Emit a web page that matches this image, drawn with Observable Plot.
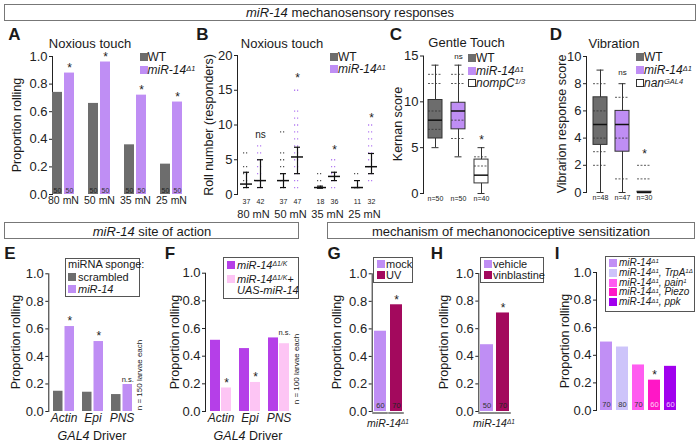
<!DOCTYPE html>
<html><head><meta charset="utf-8">
<script src="https://cdn.jsdelivr.net/npm/d3@7"></script>
<script src="https://cdn.jsdelivr.net/npm/@observablehq/plot@0.6"></script>
<style>
html,body{margin:0;padding:0;background:#fff;}
#fig{position:relative;width:700px;height:444px;overflow:hidden;font-family:"Liberation Sans",Arial,Helvetica,sans-serif;color:#1a1a1a;background:#fff;}
#fig > svg{position:absolute;left:0;top:0;}
.lb{position:absolute;white-space:nowrap;line-height:1;}
.hdr{position:absolute;box-sizing:border-box;border:1.5px solid #777;background:#fff;}
.sq{position:absolute;width:8px;height:8px;box-sizing:border-box;}
.lgbox{position:absolute;box-sizing:border-box;border:1px solid #555;}
sup{font-size:0.62em;position:relative;top:-0.4em;vertical-align:baseline;line-height:0;}
</style></head><body><div id="fig"></div>
<script>
// ---------------- data ----------------
const doses = ["80 mN", "50 mN", "35 mN", "25 mN"];
// A: noxious touch, proportion rolling
const touchWT = [0.74, 0.66, 0.36, 0.22];
const touchMiR = [0.88, 0.96, 0.72, 0.67];
const touchN = [50, 50, 50, 50];
// B: roll number (responders)
const rollDotsWT = [[1,2,3,4,6],[1,2,3,4,5,6,9],[1,2,3],[1,3]];
const rollDotsMiR = [[1,2,3,4,5,6,7],[1,2,3,4,5,6,7,8,9,10,11,12,15],[1,2,3,4,5],[2,3,4,5,6,7,8,9,10]];
const rollMidWT = [1.5, 2, 1, 1];
const rollLoWT = [1, 1, 0.9, 1];
const rollHiWT = [3.2, 3, 1.2, 2];
const rollMidMiR = [2, 5.4, 2.6, 4];
const rollLoMiR = [1, 3, 2, 3];
const rollHiMiR = [5, 6.8, 3.2, 5.9];
const rollNWT = [37, 37, 18, 11];
const rollNMiR = [42, 47, 36, 32];
const rollSig = ["ns", "*", "*", "*"];
const rollSigAt = [8.6, 17.1, 6.7, 11.4];
// C: gentle touch, Kernan score
const gentleGroups = ["WT", "miR-14", "nompC"];
const kernanMin = [5, 4, 0];
const kernanQ1 = [6, 7, 1.1];
const kernanMed = [8, 9, 2];
const kernanQ3 = [10.2, 9.9, 3.7];
const kernanMax = [14, 14, 5];
const kernanDots = [[7, 9, 12, 13], [6, 8, 12, 13], [3, 4]];
const kernanN = [50, 50, 40];
const kernanSig = ["", "ns", "*"];
const kernanSigAt = [0, 14.9, 6.1];
// D: vibration response score
const vibGroups = ["WT", "miR-14", "nan"];
const vibMin = [0, 0, 0];
const vibQ1 = [3.5, 3, 0];
const vibMed = [5, 5, 0];
const vibQ3 = [7, 6, 0.06];
const vibMax = [9, 8, 0];
const vibDots = [[2, 3, 4, 6, 8], [1, 4, 7], [1, 2]];
const vibN = [48, 47, 30];
const vibSig = ["", "ns", "*"];
const vibSigAt = [0, 8.8, 3.0];
// E: miRNA sponge
const drivers = ["Actin", "Epi", "PNS"];
const spongeScr = [0.147, 0.14, 0.123];
const spongeMiR = [0.617, 0.508, 0.196];
const spongeSig = ["*", "*", "n.s."];
// F: rescue
const rescueMut = [0.515, 0.455, 0.532];
const rescueUAS = [0.17, 0.21, 0.49];
const rescueSig = ["*", "*", "n.s."];
// G, H, I
const uvGroups = ["mock", "UV"];
const uvProp = [0.583, 0.775];
const uvN = [60, 70];
const vinGroups = ["vehicle", "vinblastine"];
const vinProp = [0.484, 0.714];
const vinN = [50, 70];
const chanGroups = ["miR-14", "TrpA1", "pain", "Piezo", "ppk"];
const chanProp = [0.496, 0.46, 0.33, 0.22, 0.32];
const chanN = [70, 80, 70, 60, 60];
const chanSig = ["", "", "", "*", ""];

// ---------------- styling ----------------
const FONT = '"Liberation Sans", Arial, Helvetica, sans-serif';
const C_WT = "#6d6d6d", C_MIR = "#bf8ef4", C_F1 = "#b53fe8", C_F2 = "#fdc5f4", C_UV = "#a3095d";
const C_I = ["#c18ff5", "#cdc4fa", "#ff5cf0", "#ff17c6", "#a100ee"];
const C_I_TXT = ["#333", "#333", "#333", "#ffd6f4", "#f0d0ff"];
const fig = document.getElementById("fig");

function band(x0, pitch, bw, n) {
  const pi = 1 - bw / pitch;
  return {range: [x0, x0 + pitch * (n - pi)], paddingInner: pi, paddingOuter: 0, align: 0};
}
function addPlot({l, t, r, b, x, y, marks}) {
  const svg = Plot.plot({
    width: 700, height: 444,
    marginLeft: l, marginRight: 700 - r, marginTop: t, marginBottom: 444 - b,
    style: {background: "transparent", fontFamily: FONT, fontSize: "13px", color: "#222", overflow: "visible"},
    x: {type: "band", axis: null, ...x},
    y: {line: true, tickSize: 3, tickPadding: 2, label: null, ...y},
    color: {type: "identity"},
    marks
  });
  fig.appendChild(svg);
}
function lab(html, x, y, o = {}) {
  const el = document.createElement("div");
  el.className = "lb";
  el.innerHTML = html;
  const s = el.style;
  s.left = x + "px"; s.top = y + "px";
  s.fontSize = (o.size || 12) + "px";
  if (o.bold) s.fontWeight = "bold";
  if (o.italic) s.fontStyle = "italic";
  if (o.color) s.color = o.color;
  const ax = o.anchor === "start" ? "0" : o.anchor === "end" ? "-100%" : "-50%";
  s.transform = `translate(${ax},-50%)` + (o.rotate ? ` rotate(${o.rotate}deg)` : "");
  fig.appendChild(el);
  return el;
}
function sq(x, yc, color, border) {
  const el = document.createElement("div");
  el.className = "sq";
  el.style.left = x + "px"; el.style.top = (yc - 4) + "px";
  el.style.background = color;
  if (border) el.style.border = "1px solid #333";
  fig.appendChild(el);
}
function box(cls, x, y, w, h) {
  const el = document.createElement("div");
  el.className = cls;
  Object.assign(el.style, {left: x + "px", top: y + "px", width: w + "px", height: h + "px"});
  fig.appendChild(el);
}
const star = (data, opts) => Plot.text(data, {text: () => "*", fontSize: 12, ...opts});

// ---------------- A ----------------
{
  const bw = 22.5, w = 10.5, off = (bw - w) / 2;
  const rows = doses.map((d, i) => ({d, wt: touchWT[i], mir: touchMiR[i], n: touchN[i]}));
  addPlot({l: 52, t: 56, r: 190, b: 194,
    x: {domain: doses, ...band(52, 36.66, bw, 4)},
    y: {domain: [0, 1], ticks: 5, tickFormat: ".1f"},
    marks: [
      Plot.barY(rows, {x: "d", y: "wt", fill: C_WT, insetRight: bw - w}),
      Plot.barY(rows, {x: "d", y: "mir", fill: C_MIR, insetLeft: bw - w}),
      Plot.text(rows, {x: "d", y: 0, text: r => String(r.n), dx: -off, dy: -4, fontSize: 7, fill: "#222"}),
      Plot.text(rows, {x: "d", y: 0, text: r => String(r.n), dx: off, dy: -4, fontSize: 7, fill: "#333"}),
      star(rows, {x: "d", y: "mir", dx: off, dy: -5}),
      Plot.text(rows, {x: "d", text: "d", frameAnchor: "bottom", dy: 9, fontSize: 10.5})
    ]});
}
// ---------------- B ----------------
{
  const bw = 28;
  const dWT = doses.flatMap((d, i) => rollDotsWT[i].map(v => ({d, v})));
  const dMiR = doses.flatMap((d, i) => rollDotsMiR[i].map(v => ({d, v})));
  const s = doses.map((d, i) => ({d, mw: rollMidWT[i], lw: rollLoWT[i], hw: rollHiWT[i],
    mm: rollMidMiR[i], lm: rollLoMiR[i], hm: rollHiMiR[i], nw: rollNWT[i], nm: rollNMiR[i],
    sig: rollSig[i], at: rollSigAt[i]}));
  const k = {stroke: "#111", strokeWidth: 1.2};
  addPlot({l: 237, t: 55, r: 385, b: 194,
    x: {domain: doses, ...band(238.5, 37.3, bw, 4)},
    y: {domain: [0, 20], ticks: 4},
    marks: [
      Plot.tickY(dWT, {x: "d", y: "v", insetLeft: 4, insetRight: 18, stroke: "#555", strokeWidth: 1.3, strokeDasharray: "1.2,1.8"}),
      Plot.tickY(dMiR, {x: "d", y: "v", insetLeft: 18, insetRight: 4, stroke: "#b47cf2", strokeWidth: 1.3, strokeDasharray: "1.2,1.8"}),
      Plot.ruleX(s, {x: "d", y1: "lw", y2: "hw", dx: -7, ...k}),
      Plot.tickY(s, {x: "d", y: "lw", insetLeft: 4, insetRight: 18, ...k}),
      Plot.tickY(s, {x: "d", y: "hw", insetLeft: 4, insetRight: 18, ...k}),
      Plot.tickY(s, {x: "d", y: "mw", insetLeft: 1, insetRight: 15, stroke: "#111", strokeWidth: 1.5}),
      Plot.ruleX(s, {x: "d", y1: "lm", y2: "hm", dx: 7, ...k}),
      Plot.tickY(s, {x: "d", y: "lm", insetLeft: 18, insetRight: 4, ...k}),
      Plot.tickY(s, {x: "d", y: "hm", insetLeft: 18, insetRight: 4, ...k}),
      Plot.tickY(s, {x: "d", y: "mm", insetLeft: 15, insetRight: 1, stroke: "#111", strokeWidth: 1.5}),
      star(s.filter(r => r.sig === "*"), {x: "d", y: "at", dx: 7, dy: 2.5}),
      Plot.text(s.filter(r => r.sig !== "*"), {x: "d", y: "at", text: "sig", dx: 7, fontSize: 10}),
      Plot.text(s, {x: "d", text: r => String(r.nw), frameAnchor: "bottom", dx: -7, dy: 9, fontSize: 7}),
      Plot.text(s, {x: "d", text: r => String(r.nm), frameAnchor: "bottom", dx: 7, dy: 9, fontSize: 7}),
      Plot.text(s, {x: "d", text: "d", frameAnchor: "bottom", dy: 23, fontSize: 11})
    ]});
}
// ---------------- C & D (box plots) ----------------
function boxPanel(groups, mn, q1, md, q3, mx, dots, ns, sig, sigAt, frame, bandOpt, yOpt) {
  const fills = [C_WT, C_MIR, "#ffffff"];
  const rows = groups.map((g, i) => ({g, lo: mn[i], q1: q1[i], med: md[i], q3: q3[i], hi: mx[i],
    fill: fills[i], n: ns[i], sig: sig[i], at: sigAt[i]}));
  const pts = groups.flatMap((g, i) => dots[i].map(v => ({g, v})));
  addPlot({...frame, x: {domain: groups, ...bandOpt}, y: yOpt,
    marks: [
      Plot.ruleX(rows, {x: "g", y1: "lo", y2: "hi", stroke: "#333", strokeWidth: 1}),
      Plot.tickY(rows, {x: "g", y: "lo", insetLeft: 3.5, insetRight: 3.5, stroke: "#333"}),
      Plot.tickY(rows, {x: "g", y: "hi", insetLeft: 3.5, insetRight: 3.5, stroke: "#333"}),
      Plot.barY(rows, {x: "g", y1: "q1", y2: "q3", fill: "fill", stroke: "#333", strokeWidth: 1}),
      Plot.tickY(pts, {x: "g", y: "v", stroke: "#333", strokeWidth: 1, strokeDasharray: "2,1.5", strokeOpacity: 0.8}),
      Plot.tickY(rows, {x: "g", y: "med", stroke: "#111", strokeWidth: 1.5}),
      star(rows.filter(r => r.sig === "*"), {x: "g", y: "at", dy: 2.5}),
      Plot.text(rows.filter(r => r.sig === "ns"), {x: "g", y: "at", text: "sig", fontSize: 8}),
      Plot.text(rows, {x: "g", text: r => "n=" + r.n, frameAnchor: "bottom", dy: 7, fontSize: 7})
    ]});
}
boxPanel(gentleGroups, kernanMin, kernanQ1, kernanMed, kernanQ3, kernanMax, kernanDots, kernanN, kernanSig, kernanSigAt,
  {l: 423, t: 55.5, r: 495, b: 193}, band(428, 23, 14, 3), {domain: [0, 15], ticks: 3});
boxPanel(vibGroups, vibMin, vibQ1, vibMed, vibQ3, vibMax, vibDots, vibN, vibSig, vibSigAt,
  {l: 586, t: 56, r: 660, b: 192}, band(593, 22.3, 14, 3), {domain: [0, 10], ticks: 5});

// ---------------- E & F (grouped bars) ----------------
function groupPanel(a, bVals, sig, colors, frame, x0, pitch, bw, w, sigOnMax) {
  const off = (bw - w) / 2;
  const rows = drivers.map((d, i) => ({d, a: a[i], b: bVals[i], sig: sig[i], at: sigOnMax ? Math.max(a[i], bVals[i]) : bVals[i]}));
  addPlot({...frame, x: {domain: drivers, ...band(x0, pitch, bw, 3)}, y: {domain: [0, 1], ticks: 5, tickFormat: ".1f"},
    marks: [
      Plot.barY(rows, {x: "d", y: "a", fill: colors[0], insetRight: bw - w}),
      Plot.barY(rows, {x: "d", y: "b", fill: colors[1], insetLeft: bw - w}),
      star(rows.filter(r => r.sig === "*"), {x: "d", y: "b", dx: off, dy: -5}),
      Plot.text(rows.filter(r => r.sig !== "*"), {x: "d", y: "at", text: "sig", dx: off, dy: -5, fontSize: 7.5}),
      Plot.text(rows, {x: "d", text: "d", frameAnchor: "bottom", dy: 10, fontSize: 12, fontStyle: "italic"})
    ]});
}
groupPanel(spongeScr, spongeMiR, spongeSig, [C_WT, C_MIR], {l: 48.3, t: 273.3, r: 140, b: 411}, 52.6, 29.3, 21.5, 10, false);
groupPanel(rescueMut, rescueUAS, rescueSig, [C_F1, C_F2], {l: 205, t: 272.7, r: 296, b: 411}, 210.1, 29.4, 21.6, 10.6, true);

// ---------------- G, H, I (single bars) ----------------
function simplePanel(groups, vals, ns, colors, txtColors, sig, frame, x0, pitch, bw, underline) {
  const rows = groups.map((g, i) => ({g, v: vals[i], n: ns[i], c: colors[i], tc: txtColors[i], sig: sig[i]}));
  const marks = [
    Plot.barY(rows, {x: "g", y: "v", fill: "c"}),
    Plot.text(rows, {x: "g", y: 0, text: r => String(r.n), fill: "tc", dy: -5.5, fontSize: 7.5}),
    star(rows.filter(r => r.sig === "*"), {x: "g", y: "v", dy: -5})
  ];
  if (underline) marks.push(Plot.tickY(rows, {x: "g", y: 0, dy: 1.5, insetLeft: -1.8, insetRight: -1.8, stroke: "#8a8a8a", strokeWidth: 2}));
  addPlot({...frame, x: {domain: groups, ...band(x0, pitch, bw, groups.length)}, y: {domain: [0, 1], ticks: 5, tickFormat: ".1f"}, marks});
}
simplePanel(uvGroups, uvProp, uvN, [C_MIR, C_UV], ["#333", "#222"], ["", "*"], {l: 371.7, t: 273.3, r: 410, b: 411}, 374, 16.3, 12.5, true);
simplePanel(vinGroups, vinProp, vinN, [C_MIR, C_UV], ["#333", "#222"], ["", "*"], {l: 478.3, t: 273, r: 515, b: 411}, 480, 16.2, 13, true);
simplePanel(chanGroups, chanProp, chanN, C_I, C_I_TXT, chanSig, {l: 596, t: 272, r: 685, b: 410}, 600, 16.4, 12.3, false);

// ---------------- headers ----------------
box("hdr", 4, 3.5, 692, 17);
lab("<i>miR-14</i> mechanosensory responses", 350, 12, {size: 13});
box("hdr", 4, 222, 295, 17);
lab("<i>miR-14</i> site of action", 152, 230.5, {size: 13});
box("hdr", 327, 222, 368, 17);
lab("mechanism of mechanonociceptive sensitization", 511, 230.5, {size: 13});

// ---------------- panel letters & titles ----------------
[["A", 14.5, 34], ["B", 202.5, 34], ["C", 396, 34], ["D", 556, 34], ["E", 10, 253], ["F", 170, 253],
 ["G", 334, 253], ["H", 437, 253], ["I", 557, 253]].forEach(([t, x, y]) => lab(t, x, y, {size: 17, bold: true}));
lab("Noxious touch", 90, 42.5, {size: 13});
lab("Noxious touch", 282, 43, {size: 13});
lab("Gentle Touch", 466.5, 42, {size: 13});
lab("Vibration", 614, 43, {size: 13});

// ---------------- y-axis titles ----------------
[["Proportion rolling", 17, 125], ["Roll number (responders)", 209, 125], ["Kernan score", 398, 124],
 ["Vibrarion response score", 562, 124], ["Proportion rolling", 16, 342], ["Proportion rolling", 175, 342],
 ["Proportion rolling", 337, 342], ["Proportion rolling", 444, 342], ["Proportion rolling", 565, 341]]
 .forEach(([t, x, y]) => lab(t, x, y, {size: 12.5, rotate: -90}));

// ---------------- legends ----------------
const mir = "<i>miR-14<sup>Δ1</sup></i>";
sq(139.5, 57, C_WT); lab("WT", 147.5, 57, {anchor: "start"});
sq(139.5, 69.5, C_MIR); lab(mir, 147.5, 69.5, {anchor: "start"});
sq(330, 56.7, C_WT); lab("WT", 338, 56.7, {anchor: "start"});
sq(330, 69.3, C_MIR); lab(mir, 338, 69.3, {anchor: "start"});
sq(468, 58, C_WT); lab("WT", 476, 58, {anchor: "start"});
sq(468, 70.7, C_MIR); lab(mir, 476, 70.7, {anchor: "start"});
sq(468, 83.3, "#fff", true); lab("<i>nompC<sup>1/3</sup></i>", 476, 83.3, {anchor: "start"});
sq(636, 56.7, C_WT); lab("WT", 644, 56.7, {anchor: "start"});
sq(636, 70, C_MIR); lab(mir, 644, 70, {anchor: "start"});
sq(636, 83.3, "#fff", true); lab("<i>nan<sup>GAL4</sup></i>", 644, 83.3, {anchor: "start"});

box("lgbox", 65, 257.5, 75, 39);
lab("miRNA sponge:", 68, 264, {anchor: "start", size: 11});
sq(68, 276.5, C_WT); lab("scrambled", 78, 276.5, {anchor: "start", size: 11});
sq(68, 289, C_MIR); lab("<i>miR-14</i>", 78, 289, {anchor: "start", size: 11});

box("lgbox", 223, 257, 76, 42);
sq(227, 265, C_F1); lab("<i>miR-14<sup>Δ1/K</sup></i>", 237, 265, {anchor: "start", size: 11});
sq(227, 279, C_F2); lab("<i>miR-14<sup>Δ1/K</sup>+</i>", 237, 279, {anchor: "start", size: 11});
lab("<i>UAS-miR-14</i>", 237, 290, {anchor: "start", size: 11});

box("lgbox", 373, 257, 40, 26);
sq(377, 263.5, C_MIR); lab("mock", 386, 263.5, {anchor: "start", size: 11});
sq(377, 275, C_UV); lab("UV", 386, 275, {anchor: "start", size: 11});
box("lgbox", 480, 257, 64, 26);
sq(484, 263.5, C_MIR); lab("vehicle", 493, 263.5, {anchor: "start", size: 11});
sq(484, 275, C_UV); lab("vinblastine", 493, 275, {anchor: "start", size: 11});

box("lgbox", 605, 256, 90, 56);
const iLabels = [mir, mir + "<i>, TrpA<sup>1Δ</sup></i>", mir + "<i>, pain<sup>1</sup></i>", mir + "<i>, Piezo</i>", mir + "<i>, ppk</i>"];
[262.5, 272.5, 282.5, 292.3, 302].forEach((y, i) => { sq(609, y, C_I[i]); lab(iLabels[i], 619, y, {anchor: "start", size: 10}); });

// ---------------- misc axis annotations ----------------
lab("n = 150 larvae each", 140, 375, {size: 8, rotate: -90});
lab("n = 100 larvae each", 297, 369, {size: 8, rotate: -90});
lab("<i>GAL4</i> Driver", 92, 436, {size: 12.5});
lab("<i>GAL4</i> Driver", 248, 436, {size: 12.5});
lab(mir, 388, 422.5, {size: 10.5});
lab(mir, 494, 422.5, {size: 10.5});
</script></body></html>
